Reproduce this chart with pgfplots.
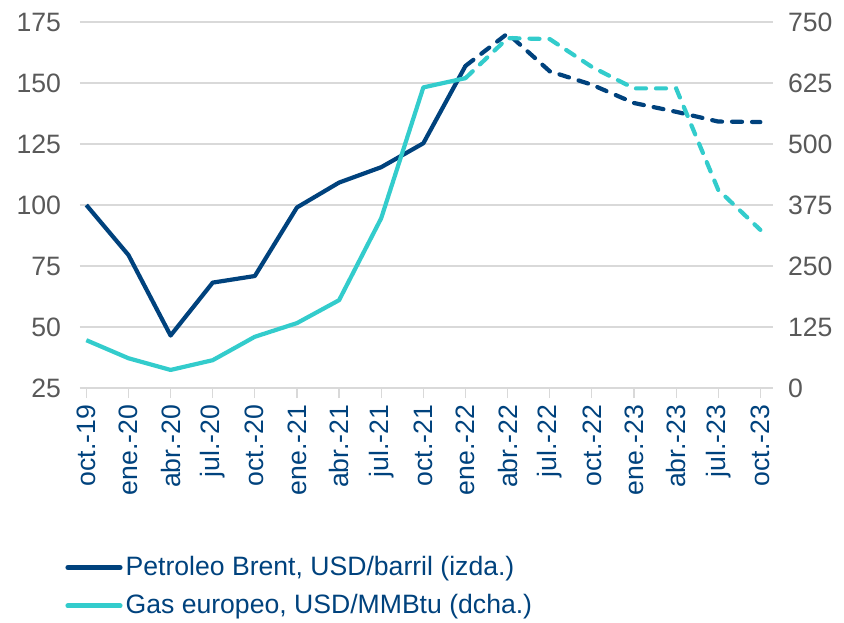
\documentclass[border=0pt]{standalone}
\usepackage{fontspec}
\setmainfont{Liberation Sans}
\usepackage{pgfplots}
\pgfplotsset{compat=1.18}

\definecolor{brent}{RGB}{0,66,125}
\definecolor{gas}{RGB}{51,204,204}
\definecolor{ticktxt}{RGB}{89,89,89}
\definecolor{gridc}{RGB}{217,217,217}

\pgfplotstableread{
x  brent  gas
0  100.0  98
1  79.5   61
2  46.5   37
3  68.2   57
4  70.9   105
5  99.0   133
6  109.2  180
7  115.5  348
8  125.3  616
9  157.0  635
}\histdata

\pgfplotstableread{
x  brent  gas
9  157.0  635
10 170.3  717
11 154.8  715
12 149.3  658
13 141.8  614
14 138.2  614
15 134.2  406
16 134.0  324
}\fcdata

\begin{document}
\begin{tikzpicture}
\path[use as bounding box] (-40pt,-117pt) rectangle (382pt,194pt);

\pgfplotsset{
  base/.style={
    scale only axis,
    width=346.5pt, height=183pt,
    at={(0,0)}, anchor=south west,
    xmin=-0.15, xmax=16.3,
    tick label style={font=\fontsize{13.3}{15}\selectfont, text=ticktxt},
    /pgf/number format/assume math mode=true,
  }
}

\begin{axis}[
  base,
  ymin=25, ymax=175,
  ytick={25,50,...,175},
  axis x line*=bottom,
  axis y line*=left,
  y axis line style={draw=none},
  x axis line style={draw=gridc, line width=0.6pt},
  ymajorgrids,
  grid style={draw=gridc, line width=0.6pt},
  xtick={0,...,16},
  xticklabels={oct.-19,ene.-20,abr.-20,jul.-20,oct.-20,ene.-21,abr.-21,jul.-21,oct.-21,ene.-22,abr.-22,jul.-22,oct.-22,ene.-23,abr.-23,jul.-23,oct.-23},
  x tick label style={rotate=90, anchor=east, text=brent},
  xtick style={draw=gridc, line width=0.6pt},
  major tick length=5pt,
  xtick align=outside,
  yticklabel style={xshift=-6pt},
  ytick style={draw=none},
  clip=false,
  legend cell align=left,
  legend style={
    at={(axis description cs:0,0)}, anchor=north west,
    xshift=-7.5pt, yshift=-83pt,
    draw=none, fill=none,
    font=\fontsize{13.3}{15}\selectfont, text=brent,
    row sep=6pt, inner sep=0pt,
    nodes={inner xsep=1.5pt, inner ysep=1pt},
  },
  legend image code/.code={\draw[#1, solid, line width=2.6pt, line cap=round] (0pt,0pt) -- (26pt,0pt);},
]
\addplot[brent, line width=2.1pt, line join=round] table[x=x, y=brent]{\histdata};
\addlegendentry{Petroleo Brent, USD/barril (izda.)}
\addlegendimage{gas}
\addlegendentry{Gas europeo, USD/MMBtu (dcha.)}
\addplot[brent, line width=2.1pt, line cap=round, dash pattern=on 5pt off 5pt, forget plot] table[x=x, y=brent]{\fcdata};
\end{axis}

\begin{axis}[
  base,
  ymin=0, ymax=750,
  ytick={0,125,...,750},
  axis y line*=right,
  axis x line=none,
  y axis line style={draw=none},
  ytick style={draw=none},
  yticklabel style={xshift=4pt},
  xtick=\empty,
]
\addplot[gas, line width=2.1pt, line join=round] table[x=x, y=gas]{\histdata};
\addplot[gas, line width=2.1pt, line cap=round, dash pattern=on 5pt off 5pt] table[x=x, y=gas]{\fcdata};
\end{axis}

\end{tikzpicture}
\end{document}
